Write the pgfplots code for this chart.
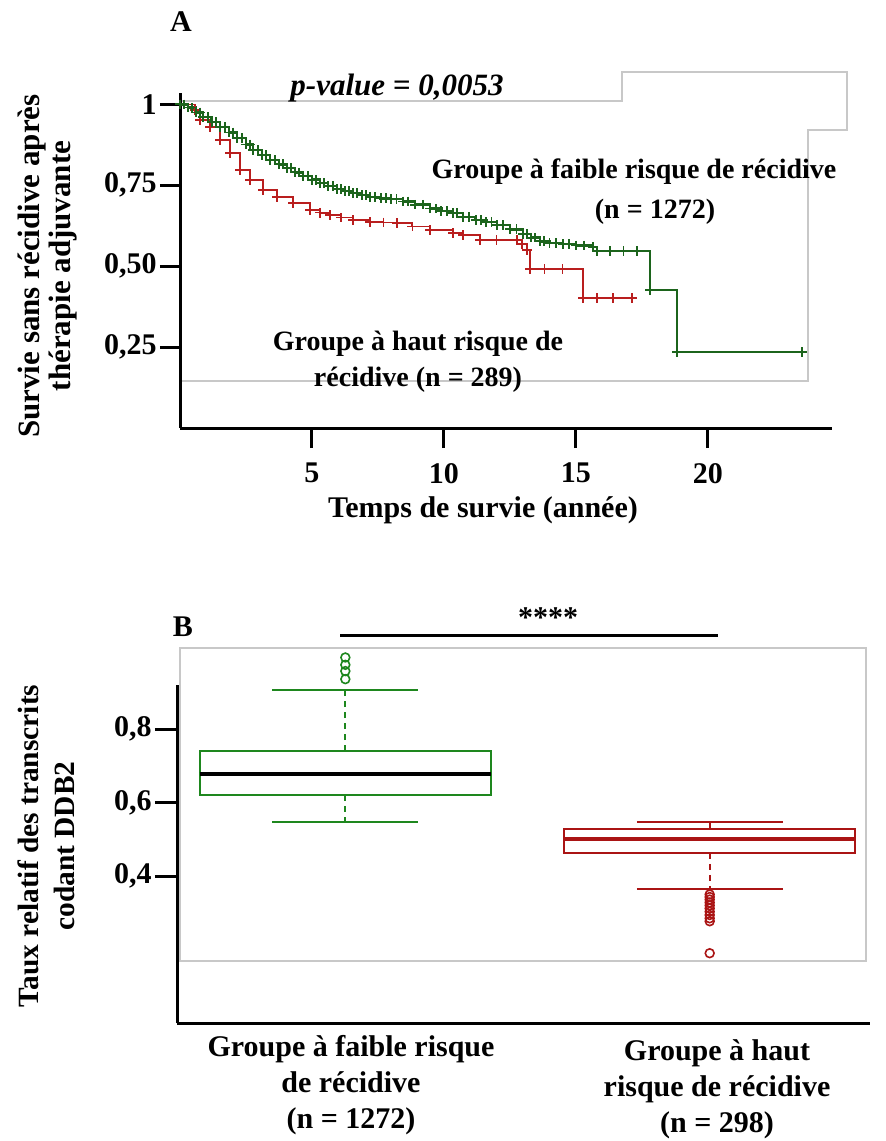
\documentclass[border=0pt]{standalone}
\usepackage{pgfplots}
\pgfplotsset{compat=1.18}
\usepgfplotslibrary{statistics}
\usepackage{fontspec}
\setmainfont{Liberation Serif}
\definecolor{agreen}{RGB}{28,100,28}
\definecolor{ared}{RGB}{185,30,30}
\definecolor{bgreen}{RGB}{30,135,30}
\definecolor{bred}{RGB}{170,20,20}
\definecolor{frame}{RGB}{200,200,200}
\newcommand\fL{\fontsize{15}{18}\selectfont\bfseries}
\newcommand\fT{\fontsize{15}{15}\selectfont\bfseries}
\begin{document}
\begin{tikzpicture}
% gray frames (remnants of the original plot boxes)
\draw[frame, line width=0.6pt] (90pt,-50.5pt) -- (311pt,-50.5pt) -- (311pt,-36pt) -- (423.5pt,-36pt) -- (423.5pt,-65pt) -- (404pt,-65pt) -- (404pt,-190.5pt) -- (90pt,-190.5pt);
\draw[frame, line width=0.6pt] (90pt,-324pt) rectangle (433pt,-480.5pt);

\begin{axis}[
  at={(90pt,-214pt)}, anchor=south west,
  scale only axis, width=326pt, height=167.5pt,
  xmin=0, xmax=24.7, ymin=0, ymax=1.035,
  axis x line*=bottom, axis y line*=left,
  axis line style={line width=1.5pt, black},
  tick style={line width=1.5pt, black},
  tick align=outside, major tick length=10pt,
  xtick={5,10,15,20}, xticklabels={\textbf{5},\textbf{10},\textbf{15},\textbf{20}},
  ytick={0.25,0.5,0.75,1}, yticklabels={\textbf{0,25},\textbf{0,50},\textbf{0,75},\textbf{1}},
  ticklabel style={font=\fT},
  yticklabel style={inner sep=1.5pt},
  xticklabel style={yshift=-4pt},
  clip=false,
]
\addplot[const plot, color=ared, line width=0.8pt, mark=+, mark size=2.4pt, mark options={line width=0.7pt}] coordinates {
(0,1.000) (0.57,0.983) (0.76,0.952) (1.14,0.930) (1.52,0.890) (1.89,0.850)
(2.27,0.797) (2.65,0.766) (3.14,0.735) (3.67,0.714) (4.28,0.695) (4.92,0.674)
(5.3,0.665) (5.68,0.658) (6.1,0.650) (6.55,0.643) (7.2,0.637) (7.7,0.635)
(8.22,0.633) (8.8,0.622) (9.47,0.612) (10.34,0.603) (10.72,0.596) (11.36,0.581)
(12.0,0.581) (12.77,0.581) (12.95,0.569) (13.14,0.550) (13.26,0.491) (13.8,0.491)
(14.5,0.491) (15.27,0.402) (15.8,0.402) (16.4,0.402) (17.12,0.402)
};
\addplot[const plot, color=agreen, line width=1.3pt, mark=+, mark size=2.4pt, mark options={line width=0.9pt}] coordinates {
(0,1.000) (0.15,1.000) (0.3,0.990) (0.45,0.990) (0.6,0.975) (0.75,0.975) (0.87,0.961) (1.05,0.961)
(1.2,0.945) (1.35,0.945) (1.52,0.930) (1.7,0.930) (1.85,0.913) (2.0,0.913) (2.16,0.896) (2.35,0.896)
(2.5,0.876) (2.65,0.876) (2.77,0.859) (2.95,0.859) (3.1,0.843) (3.25,0.843) (3.41,0.828) (3.6,0.828)
(3.75,0.815) (3.9,0.815) (4.05,0.803) (4.2,0.803) (4.35,0.790) (4.5,0.790) (4.66,0.779) (4.85,0.779)
(5.0,0.767) (5.15,0.767) (5.3,0.757) (5.45,0.757) (5.6,0.748) (5.8,0.748) (5.95,0.739) (6.1,0.739)
(6.25,0.732) (6.4,0.732) (6.55,0.726) (6.7,0.726) (6.9,0.720) (7.05,0.720) (7.2,0.714) (7.4,0.714)
(7.6,0.710) (7.8,0.710) (8.0,0.707) (8.2,0.707) (8.45,0.700) (8.65,0.700) (8.9,0.690) (9.2,0.690)
(9.47,0.678) (9.7,0.678) (9.9,0.670) (10.1,0.670) (10.34,0.664) (10.5,0.664) (10.72,0.652) (10.95,0.652)
(11.2,0.643) (11.4,0.643) (11.6,0.636) (11.8,0.636) (12.01,0.627) (12.25,0.627) (12.5,0.614) (12.75,0.614)
(12.99,0.600) (13.15,0.600) (13.3,0.588) (13.45,0.588) (13.64,0.577) (13.8,0.577) (14.0,0.572) (14.25,0.572)
(14.5,0.568) (14.75,0.568) (15.0,0.564) (15.3,0.564) (15.64,0.559) (15.8,0.547) (16.3,0.547) (16.8,0.547)
(17.3,0.547) (17.8,0.426) (18.83,0.235) (23.56,0.235)
};
\end{axis}

\begin{axis}[
  at={(88.5pt,-511.5pt)}, anchor=south west,
  scale only axis, width=346.5pt, height=169pt,
  xmin=0.538, xmax=2.44, ymin=0, ymax=0.92,
  axis x line*=bottom, axis y line*=left,
  axis line style={line width=1.5pt, black},
  tick style={line width=1.5pt, black},
  tick align=outside, major tick length=11pt,
  xtick=\empty,
  ytick={0.4,0.6,0.8}, yticklabels={\textbf{0,4},\textbf{0,6},\textbf{0,8}},
  ticklabel style={font=\fT},
  yticklabel style={inner sep=1.5pt},
  clip=false,
  boxplot/draw direction=y,
  boxplot/draw/lower whisker/.code={
    \draw[/pgfplots/boxplot/every whisker/.try, line width=0.9pt, dash pattern=on 3pt off 2.5pt]
      (boxplot cs:\pgfplotsboxplotvalue{lower quartile}) -- (boxplot cs:\pgfplotsboxplotvalue{lower whisker});
    \draw[/pgfplots/boxplot/every whisker/.try, line width=0.9pt]
      (boxplot whisker cs:\pgfplotsboxplotvalue{lower whisker},0) -- (boxplot whisker cs:\pgfplotsboxplotvalue{lower whisker},1);
  },
  boxplot/draw/upper whisker/.code={
    \draw[/pgfplots/boxplot/every whisker/.try, line width=0.9pt, dash pattern=on 3pt off 2.5pt]
      (boxplot cs:\pgfplotsboxplotvalue{upper quartile}) -- (boxplot cs:\pgfplotsboxplotvalue{upper whisker});
    \draw[/pgfplots/boxplot/every whisker/.try, line width=0.9pt]
      (boxplot whisker cs:\pgfplotsboxplotvalue{upper whisker},0) -- (boxplot whisker cs:\pgfplotsboxplotvalue{upper whisker},1);
  },
]
\addplot[draw=bgreen, line width=1pt, mark=o, mark size=2.2pt, mark options={draw=bgreen, line width=0.8pt, solid},
  boxplot prepared={draw position=1, median=0.678, upper quartile=0.740, lower quartile=0.620,
    upper whisker=0.906, lower whisker=0.547, box extend=0.8, whisker extend=0.4,
    every median/.style={black, line width=1.8pt}}]
  table[row sep=\\, y index=0] {0.936\\0.958\\0.975\\0.995\\};
\addplot[draw=bred, line width=1pt, mark=o, mark size=2.2pt, mark options={draw=bred, line width=0.8pt, solid},
  boxplot prepared={draw position=2, median=0.501, upper quartile=0.528, lower quartile=0.463,
    upper whisker=0.547, lower whisker=0.365, box extend=0.8, whisker extend=0.4,
    every median/.style={bred, line width=1.8pt}}]
  table[row sep=\\, y index=0] {0.350\\0.343\\0.336\\0.328\\0.320\\0.312\\0.303\\0.294\\0.285\\0.277\\0.190\\};
\end{axis}

% panel A texts
\node[font=\fontsize{15}{15}\selectfont\bfseries] at (90.5pt,-11pt) {A};
\node[font=\fontsize{15.5}{15.5}\selectfont\bfseries\itshape] at (198.5pt,-44pt) {p-value = 0,0053};
\node[font=\fontsize{14}{14}\selectfont\bfseries] at (317pt,-86pt) {Groupe à faible risque de récidive};
\node[font=\fontsize{14}{14}\selectfont\bfseries] at (327.5pt,-106pt) {(n = 1272)};
\node[font=\fontsize{14}{18}\selectfont\bfseries, align=center] at (209pt,-181pt) {Groupe à haut risque de\\récidive (n = 289)};
\node[font=\fL] at (241.5pt,-255pt) {Temps de survie (année)};
\node[font=\fontsize{15.5}{15.5}\selectfont\bfseries, rotate=90, align=center] at (24pt,-133pt) {Survie sans récidive après\\thérapie adjuvante};

% panel B texts
\node[font=\fL] at (91.5pt,-313.5pt) {B};
\draw[line width=1.5pt] (170pt,-317.5pt) -- (359pt,-317.5pt);
\node[font=\fL] at (274pt,-309pt) {****};
\node[font=\fontsize{14.7}{18}\selectfont\bfseries, rotate=90, align=center] at (23pt,-423pt) {Taux relatif des transcrits\\codant DDB2};
\node[font=\fL, align=center] at (175.5pt,-542.5pt) {Groupe à faible risque\\de récidive\\(n = 1272)};
\node[font=\fL, align=center] at (358.5pt,-544.5pt) {Groupe à haut\\risque de récidive\\(n = 298)};

\pgfresetboundingbox
\path (0,0) rectangle (442.5pt,-570.5pt);
\end{tikzpicture}
\end{document}
